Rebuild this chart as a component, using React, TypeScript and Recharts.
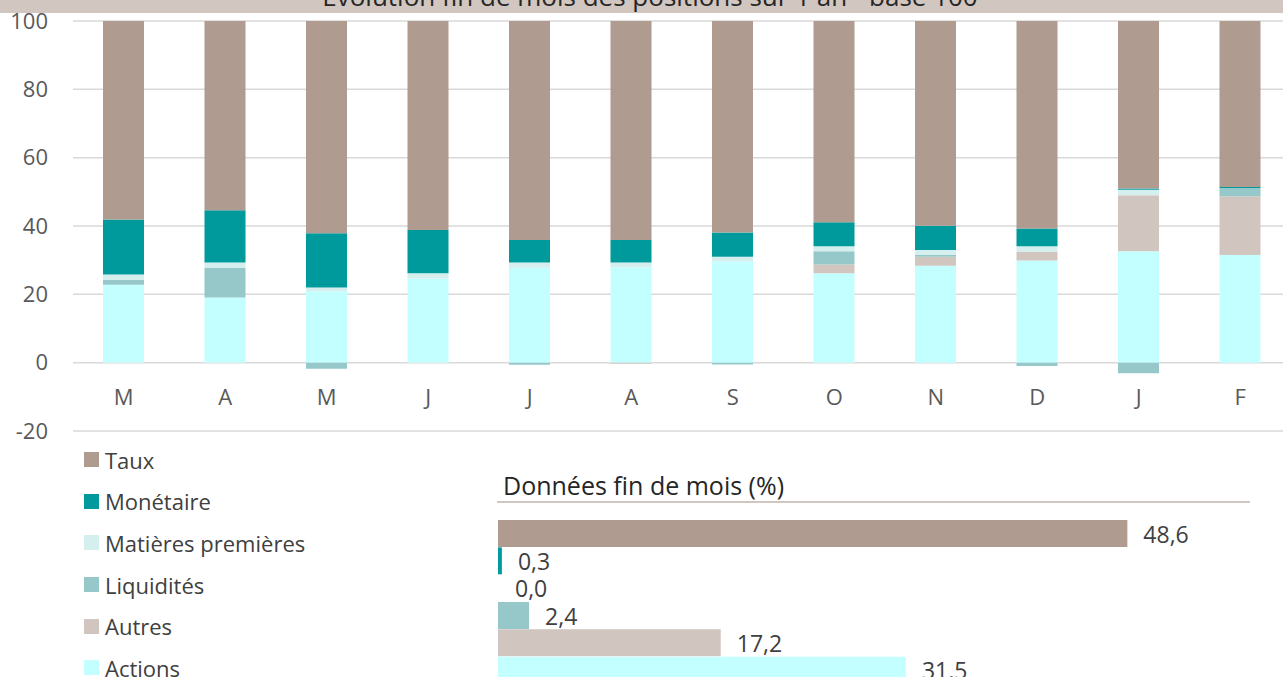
import { BarChart, Bar, XAxis, YAxis, CartesianGrid, Legend, LabelList, Cell } from 'recharts';

const FONT = '"Open Sans", "Noto Sans", sans-serif';

const months = ['M', 'A', 'M', 'J', 'J', 'A', 'S', 'O', 'N', 'D', 'J', 'F'];
const actions = [22.8, 19.1, 20.9, 24.6, 27.8, 27.9, 29.6, 26.2, 28.4, 29.9, 32.6, 31.5];
const autres = [0, 0, 0, 0, 0, -0.3, 0, 2.5, 2.6, 2.6, 16.4, 17.2];
const liquidites = [1.4, 8.7, -1.8, 0, -0.6, 0, -0.5, 3.9, 0.5, -1.0, -3.1, 2.4];
const matieres = [1.6, 1.5, 1.1, 1.6, 1.5, 1.4, 1.4, 1.5, 1.5, 1.6, 1.6, 0.0];
const monetaire = [16.1, 15.3, 15.9, 12.6, 6.6, 6.6, 7.1, 7.0, 7.1, 5.2, 0.4, 0.3];
const taux = [58.1, 55.4, 62.1, 61.2, 64.1, 64.1, 61.9, 58.9, 59.9, 60.7, 49.0, 48.6];
const yTicks = [-20, 0, 20, 40, 60, 80, 100];

// stack order, bottom to top
const series = [
  { key: 'actions', name: 'Actions', color: '#C4FFFF', values: actions },
  { key: 'autres', name: 'Autres', color: '#D1C5C0', values: autres },
  { key: 'liquidites', name: 'Liquidités', color: '#96C8CA', values: liquidites },
  { key: 'matieres', name: 'Matières premières', color: '#D5EEEE', values: matieres },
  { key: 'monetaire', name: 'Monétaire', color: '#009A9C', values: monetaire },
  { key: 'taux', name: 'Taux', color: '#AF9B8F', values: taux },
];

const data = months.map((_, i) => {
  const row: Record<string, number> = { i };
  series.forEach((s) => (row[s.key] = s.values[i]));
  return row;
});

// last month, top to bottom (Taux first)
const finMois = [...series].reverse().map((s) => ({
  name: s.name,
  color: s.color,
  value: s.values[s.values.length - 1],
}));

const fmt = (v: number) => v.toFixed(1).replace('.', ',');

const MonthTick = (props: any) => {
  const { x, y, payload } = props;
  return (
    <text x={x} y={y - 42} dy="0.35em" textAnchor="middle" fill="#595959" fontSize={22} fontFamily={FONT}>
      {months[payload.value]}
    </text>
  );
};

const LegendList = () => (
  <div style={{ fontFamily: FONT, fontSize: 22, color: '#404040' }}>
    {[...series].reverse().map((s) => (
      <div key={s.key} style={{ height: 41.6, display: 'flex', alignItems: 'center', whiteSpace: 'nowrap' }}>
        <span style={{ width: 15, height: 15, background: s.color, marginRight: 6, display: 'inline-block' }} />
        {s.name}
      </div>
    ))}
  </div>
);

const ValueLabel = (props: any) => {
  const vb = props.viewBox || {};
  const x = props.x ?? vb.x ?? 0;
  const y = props.y ?? vb.y ?? 0;
  const width = props.width ?? vb.width ?? 0;
  const height = props.height ?? vb.height ?? 0;
  return (
    <text x={x + width + 16} y={y + height / 2 + 1} dy="0.35em" fill="#404040" fontSize={23} fontFamily={FONT}>
      {fmt(Number(props.value))}
    </text>
  );
};

export default function App() {
  return (
    <div style={{ position: 'absolute', left: 0, top: 0, width: 1283, height: 677, overflow: 'hidden', background: '#fff' }}>
      <div style={{ position: 'absolute', left: 0, top: 0, width: 1283, height: 13, background: '#D1C6C0', overflow: 'hidden' }}>
        <span
          style={{
            position: 'absolute',
            left: 0,
            width: 1300,
            top: -17,
            lineHeight: '26px',
            textAlign: 'center',
            fontFamily: FONT,
            fontSize: 26,
            color: '#262626',
            whiteSpace: 'nowrap',
          }}
        >
          Évolution fin de mois des positions sur 1 an - base 100
        </span>
      </div>

      <div style={{ position: 'absolute', left: 0, top: 0 }}>
        <BarChart
          width={1291}
          height={677}
          data={data}
          stackOffset="sign"
          margin={{ top: 21, right: 0, bottom: 216, left: 0 }}
        >
          <CartesianGrid vertical={false} stroke="#D9D9D9" strokeWidth={1.5} />
          <XAxis dataKey="i" height={30} axisLine={false} tickLine={false} tick={<MonthTick />} interval={0} />
          <YAxis
            width={73}
            domain={[-20, 100]}
            ticks={yTicks}
            axisLine={false}
            tickLine={false}
            tickSize={0}
            tickMargin={25}
            tick={{ fill: '#595959', fontSize: 22, fontFamily: FONT }}
          />
          {series.map((s) => (
            <Bar key={s.key} dataKey={s.key} name={s.name} stackId="a" fill={s.color} barSize={41} isAnimationActive={false} />
          ))}
          <Legend
            layout="vertical"
            align="center"
            verticalAlign="middle"
            content={() => <LegendList />}
            wrapperStyle={{ left: 84, top: 439, width: 'auto', height: 'auto' }}
          />
        </BarChart>
      </div>

      <div
        style={{
          position: 'absolute',
          left: 503,
          top: 468,
          fontFamily: FONT,
          fontSize: 25,
          lineHeight: '34px',
          color: '#262626',
          whiteSpace: 'nowrap',
        }}
      >
        Données fin de mois (%)
      </div>
      <div style={{ position: 'absolute', left: 497, top: 501, width: 753, height: 2, background: '#D1C6C0' }} />

      <div style={{ position: 'absolute', left: 498, top: 508 }}>
        <BarChart
          layout="vertical"
          width={777}
          height={176}
          data={finMois}
          barCategoryGap={0}
          margin={{ top: 12, right: 0, bottom: 0, left: 0 }}
        >
          <XAxis type="number" domain={[0, 60]} hide />
          <YAxis type="category" dataKey="name" hide />
          <Bar dataKey="value" isAnimationActive={false} minPointSize={(v: number) => (v === 0 ? 1 : 0)}>
            {finMois.map((d) => (
              <Cell key={d.name} fill={d.value === 0 ? 'transparent' : d.color} />
            ))}
            <LabelList dataKey="value" content={<ValueLabel />} />
          </Bar>
        </BarChart>
      </div>
    </div>
  );
}
